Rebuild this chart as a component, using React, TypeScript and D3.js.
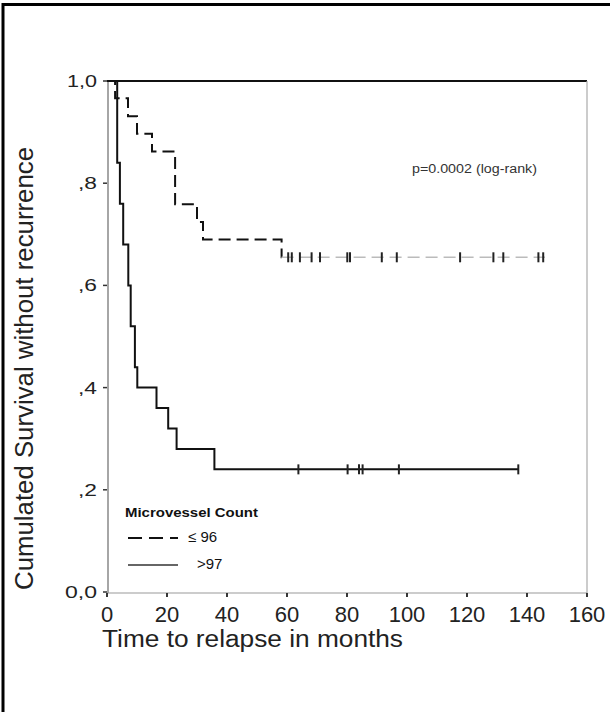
import React from "react";
import * as d3 from "d3";

// Kaplan-Meier step data
const lowTimes = [0, 2.7, 7, 10, 15, 22.7, 30, 32, 58.2];
const lowSurv = [1, 0.966, 0.931, 0.897, 0.862, 0.759, 0.724, 0.69, 0.655];
const lowEnd = 146;
const lowCensored = [60.4, 61.6, 64.3, 68.2, 71, 80.1, 81, 91.6, 96.6, 117.7, 128.8, 132.1, 143.8, 145.4];

const highTimes = [0, 3.4, 4.3, 5.4, 7.1, 7.9, 9.3, 10.1, 16.5, 20.4, 23.2, 35.8];
const highSurv = [1, 0.84, 0.76, 0.68, 0.6, 0.52, 0.44, 0.4, 0.36, 0.32, 0.28, 0.24];
const highEnd = 137;
const highCensored = [63.8, 80.2, 84, 85.2, 97.3, 137.1];

const xTicks = [0, 20, 40, 60, 80, 100, 120, 140, 160];
const yTicks = [0, 0.2, 0.4, 0.6, 0.8, 1.0];
const yTickLabels = ["0,0", ",2", ",4", ",6", ",8", "1,0"];
const yTickWidths = [32, 19, 19, 19, 19, 30];

const legendTitle = "Microvessel Count";
const legendLabels = ["\u2264 96", ">97"];
const pText = "p=0.0002 (log-rank)";
const xTitle = "Time to relapse in months";
const yTitle = "Cumulated Survival without recurrence";

const W = 610;
const H = 712;
const font = "'Liberation Sans', Arial, sans-serif";

export default function App() {
  const x = d3.scaleLinear().domain([0, 160]).range([107, 587]);
  const y = d3.scaleLinear().domain([0, 1]).range([592, 81]);

  const step = d3
    .line<[number, number]>()
    .x((d) => x(d[0]))
    .y((d) => y(d[1]))
    .curve(d3.curveStepAfter);

  const lowPts: [number, number][] = lowTimes.map((t, i) => [t, lowSurv[i]]);
  const lowHead = step(lowPts.concat([[lowTimes[lowTimes.length - 1] + 0.01, lowSurv[lowSurv.length - 1]]])) || "";
  const lowTail = step([
    [lowTimes[lowTimes.length - 1], lowSurv[lowSurv.length - 1]],
    [lowEnd, lowSurv[lowSurv.length - 1]],
  ]) || "";
  const highPts: [number, number][] = highTimes.map((t, i) => [t, highSurv[i]]);
  const highPath = step(highPts.concat([[highEnd, highSurv[highSurv.length - 1]]])) || "";

  const lowLast = lowSurv[lowSurv.length - 1];
  const highLast = highSurv[highSurv.length - 1];

  return (
    <svg
      width={W}
      height={H}
      style={{ position: "absolute", left: 0, top: 0, background: "#fff" }}
      fontFamily={font}
    >
      <rect x={0} y={0} width={W} height={H} fill="#fff" />
      {/* outer frame */}
      <line x1={3} y1={4.5} x2={W} y2={4.5} stroke="#000" strokeWidth={3} />
      <line x1={3} y1={3} x2={3} y2={H} stroke="#000" strokeWidth={3} />

      {/* plot frame */}
      <line x1={x(0)} y1={y(1)} x2={x(160)} y2={y(1)} stroke="#111" strokeWidth={2} />
      <line x1={x(160)} y1={y(1)} x2={x(160)} y2={y(0) + 1} stroke="#aaa" strokeWidth={1.2} />
      <line x1={x(0) + 1} y1={y(1)} x2={x(0) + 1} y2={y(0) + 1} stroke="#888" strokeWidth={1.5} />
      <line x1={x(0)} y1={y(0) + 1} x2={x(160)} y2={y(0) + 1} stroke="#999" strokeWidth={1.2} />

      {/* y ticks */}
      {yTicks.map((v, i) => (
        <g key={"yt" + i}>
          <line x1={x(0) - 4} x2={x(0)} y1={y(v)} y2={y(v)} stroke="#333" strokeWidth={1.5} />
          <text
            x={97}
            y={y(v) + 6}
            fontSize={17}
            textAnchor="end"
            fill="#222"
            textLength={yTickWidths[i]}
            lengthAdjust="spacingAndGlyphs"
          >
            {yTickLabels[i]}
          </text>
        </g>
      ))}

      {/* x ticks */}
      {xTicks.map((v) => (
        <g key={"xt" + v}>
          <line x1={x(v)} x2={x(v)} y1={y(0) + 1} y2={y(0) + 5} stroke="#222" strokeWidth={1.8} />
          <text x={x(v)} y={622} fontSize={22} textAnchor="middle" fill="#222">
            {v}
          </text>
        </g>
      ))}

      {/* axis titles */}
      <text
        x={102}
        y={647}
        fontSize={23}
        fill="#222"
        textLength={301}
        lengthAdjust="spacingAndGlyphs"
      >
        {xTitle}
      </text>
      <text
        transform={`translate(33, 368.5) rotate(-90)`}
        fontSize={25}
        textAnchor="middle"
        fill="#222"
        textLength={443}
        lengthAdjust="spacingAndGlyphs"
      >
        {yTitle}
      </text>

      {/* curves */}
      <path d={highPath} fill="none" stroke="#111" strokeWidth={2} />
      <path d={lowHead} fill="none" stroke="#111" strokeWidth={2} strokeDasharray="12,6" />
      <path d={lowTail} fill="none" stroke="#bbb" strokeWidth={1.5} strokeDasharray="12,6" />

      {/* censor marks */}
      {lowCensored.map((t, i) => (
        <line
          key={"lc" + i}
          x1={x(t)}
          x2={x(t)}
          y1={y(lowLast) - 5}
          y2={y(lowLast) + 5}
          stroke="#222"
          strokeWidth={2}
        />
      ))}
      {highCensored.map((t, i) => (
        <line
          key={"hc" + i}
          x1={x(t)}
          x2={x(t)}
          y1={y(highLast) - 5}
          y2={y(highLast) + 5}
          stroke="#222"
          strokeWidth={2}
        />
      ))}

      {/* p-value */}
      <text x={412} y={173} fontSize={12} fill="#333" textLength={125} lengthAdjust="spacingAndGlyphs">
        {pText}
      </text>

      {/* legend */}
      <text
        x={125}
        y={517}
        fontSize={12}
        fontWeight="bold"
        fill="#111"
        textLength={133}
        lengthAdjust="spacingAndGlyphs"
      >
        {legendTitle}
      </text>
      <line x1={128} x2={178} y1={538} y2={538} stroke="#111" strokeWidth={2} strokeDasharray="14,7" />
      <text x={188} y={542} fontSize={15} fill="#111">
        {legendLabels[0]}
      </text>
      <line x1={128} x2={178} y1={565} y2={565} stroke="#333" strokeWidth={1.5} />
      <text x={197} y={569} fontSize={15} fill="#111">
        {legendLabels[1]}
      </text>
    </svg>
  );
}
